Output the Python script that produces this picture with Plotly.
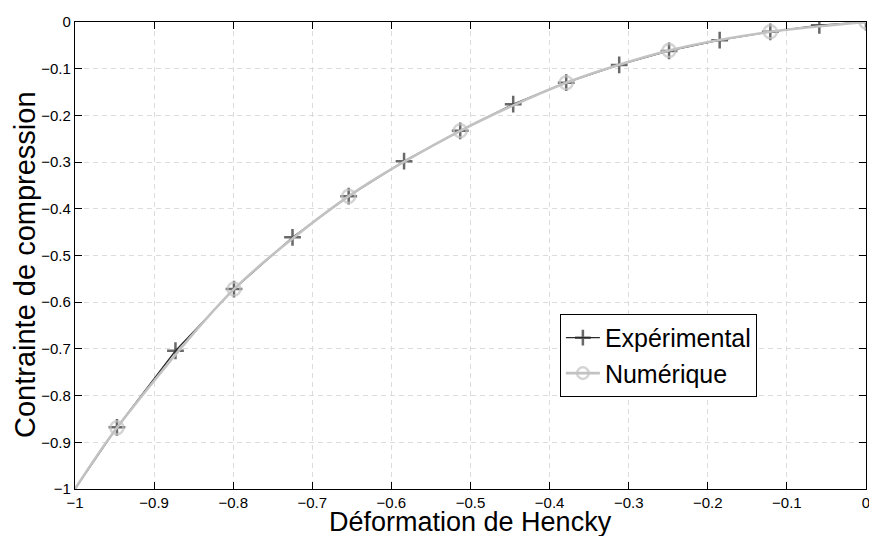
import plotly.graph_objects as go

# Experimental data (Hencky strain, compressive stress); first point is the curve start (no marker)
exp_x = [-1.0, -0.947, -0.873, -0.799, -0.725, -0.654, -0.584, -0.513, -0.446,
         -0.379, -0.312, -0.249, -0.185, -0.121, -0.059, 0.0]
exp_y = [-1.0, -0.868, -0.704, -0.572, -0.461, -0.373, -0.298, -0.233, -0.176,
         -0.130, -0.092, -0.062, -0.039, -0.021, -0.007, 0.0]

# Numerical data
num_x = [-1.0, -0.947, -0.799, -0.654, -0.513, -0.379, -0.249, -0.121, 0.0]
num_y = [-1.0, -0.869, -0.572, -0.373, -0.233, -0.130, -0.061, -0.021, 0.0]

x_ticks = [-1, -0.9, -0.8, -0.7, -0.6, -0.5, -0.4, -0.3, -0.2, -0.1, 0]
y_ticks = [-1, -0.9, -0.8, -0.7, -0.6, -0.5, -0.4, -0.3, -0.2, -0.1, 0]

x_title = "Déformation de Hencky"
y_title = "Contrainte de compression"

def lbl(v):
    if v == 0:
        return "0"
    if v == -1:
        return "\u22121"
    return "\u2212" + ("%g" % abs(v))

FONT = "Liberation Sans, Arial, Helvetica, sans-serif"

exp_sizes = [0] + [12] * (len(exp_x) - 1)
num_sizes = [0] + [13] * (len(num_x) - 1)

fig = go.Figure()
fig.add_trace(go.Scatter(
    x=exp_x, y=exp_y, mode="lines+markers", name="Expérimental",
    line=dict(color="#2a2a2a", width=1.3),
    marker=dict(symbol="cross-thin", size=exp_sizes, color="#2a2a2a",
                line=dict(color="#2a2a2a", width=2.5)),
))
fig.add_trace(go.Scatter(
    x=num_x, y=num_y, mode="lines+markers", name="Numérique",
    line=dict(color="#c2c2c2", width=2.6, shape="spline", smoothing=0.8),
    marker=dict(symbol="circle-open", size=num_sizes, color="#c2c2c2",
                line=dict(color="#c2c2c2", width=2.5)),
))

axis_common = dict(
    showline=True, linecolor="black", linewidth=1.3, mirror="ticks",
    ticks="inside", ticklen=7, tickwidth=1, tickcolor="black",
    showgrid=True, gridcolor="#dcdcdc", griddash="5px,4px", gridwidth=1,
    zeroline=False, tickfont=dict(family=FONT, size=15, color="black"),
    automargin=False, ticklabeloverflow="allow",
)

fig.update_xaxes(range=[-1, 0], tickvals=x_ticks, ticktext=[lbl(v) for v in x_ticks],
                 **axis_common)
fig.update_yaxes(range=[-1, 0], tickvals=y_ticks, ticktext=[lbl(v) for v in y_ticks],
                 **axis_common)

fig.add_annotation(text=x_title, xref="paper", yref="paper", x=0.5, y=-0.070,
                   xanchor="center", yanchor="middle", showarrow=False,
                   font=dict(family=FONT, size=27, color="black"))
fig.add_annotation(text=y_title, xref="paper", yref="paper", x=-0.063, y=0.48,
                   xanchor="center", yanchor="middle", showarrow=False, textangle=-90,
                   font=dict(family=FONT, size=29, color="black"))

fig.update_layout(
    width=869, height=536,
    margin=dict(l=75, r=3, t=22, b=47),
    paper_bgcolor="white", plot_bgcolor="white",
    font=dict(family=FONT, color="black"),
    legend=dict(x=0.613, y=0.375, xanchor="left", yanchor="top",
                bgcolor="white", bordercolor="black", borderwidth=1,
                font=dict(family=FONT, size=25, color="black"),
                itemwidth=34, tracegroupgap=0),
    showlegend=True,
)

# remove the default page margin so the figure fills the window exactly
fig.write_html("out.html",
               config={"displayModeBar": False},
               post_script="document.body.style.margin='0';document.body.style.overflow='hidden';")
